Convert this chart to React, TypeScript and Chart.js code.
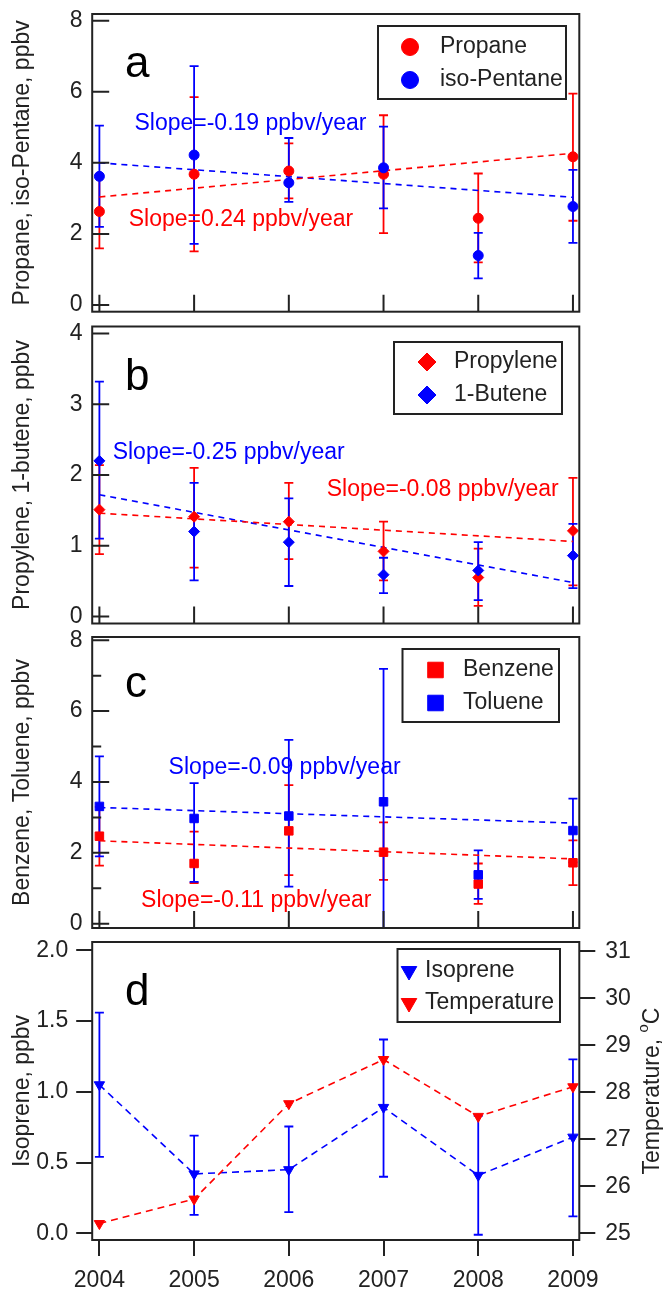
import React, { useEffect, useRef } from 'react';
import { Chart, registerables } from 'chart.js';
import { drawPoint } from 'chart.js/helpers';

Chart.register(...registerables);

const FONT = '"Liberation Sans", Arial, Helvetica, sans-serif';
const FS = 23;
const RED = '#ff0000';
const BLUE = '#0000ff';
const INK = '#222222';

// ---------- data ----------
const years = [2004, 2005, 2006, 2007, 2008, 2009];
const trendYears = [2004, 2009];

// panel a
const propane = [2.63, 3.68, 3.77, 3.68, 2.44, 4.17];
const propaneLow = [1.59, 1.51, 3.0, 2.02, 1.2, 2.37];
const propaneHigh = [3.67, 5.85, 4.55, 5.34, 3.7, 5.95];
const isoPentane = [3.62, 4.22, 3.44, 3.86, 1.39, 2.77];
const isoPentaneLow = [2.2, 1.72, 2.9, 2.72, 0.75, 1.75];
const isoPentaneHigh = [5.05, 6.72, 4.7, 5.02, 2.03, 3.8];
const propaneTrend = [3.04, 4.27];
const isoPentaneTrend = [4.0, 3.03];
const ticksA = [0, 2, 4, 6, 8];

// panel b
const propylene = [1.51, 1.41, 1.34, 0.92, 0.55, 1.21];
const propyleneLow = [0.88, 0.69, 0.81, 0.51, 0.15, 0.44];
const propyleneHigh = [2.14, 2.1, 1.89, 1.34, 0.96, 1.96];
const butene = [2.2, 1.2, 1.05, 0.59, 0.65, 0.86];
const buteneLow = [1.1, 0.51, 0.43, 0.33, 0.23, 0.4];
const buteneHigh = [3.32, 1.89, 1.67, 0.83, 1.05, 1.31];
const propyleneTrend = [1.46, 1.06];
const buteneTrend = [1.72, 0.48];
const ticksB = [0, 1, 2, 3, 4];

// panel c
const benzene = [2.47, 1.7, 2.62, 2.02, 1.12, 1.72];
const benzeneLow = [1.64, 1.15, 1.37, 1.24, 0.56, 1.09];
const benzeneHigh = [3.3, 2.6, 3.91, 2.86, 1.7, 2.35];
const toluene = [3.31, 2.97, 3.04, 3.44, 1.38, 2.63];
const tolueneLow = [1.9, 1.18, 1.05, -0.3, 0.7, 1.73];
const tolueneHigh = [4.72, 3.97, 5.19, 7.19, 2.07, 3.53];
const benzeneTrend = [2.34, 1.83];
const tolueneTrend = [3.28, 2.84];
const ticksC = [0, 2, 4, 6, 8];
const minorTicksC = [1, 3, 5, 7];

// panel d
const isoprene = [1.05, 0.42, 0.45, 0.89, 0.41, 0.68];
const isopreneLow = [0.54, 0.13, 0.15, 0.4, -0.01, 0.12];
const isopreneHigh = [1.56, 0.69, 0.755, 1.37, 0.83, 1.23];
const temperature = [25.21, 25.73, 27.76, 28.7, 27.49, 28.12];
const ticksDLeft = [0, 0.5, 1, 1.5, 2];
const ticksDRight = [25, 26, 27, 28, 29, 30, 31];

// ---------- panel configs ----------
const X_MIN = 2003.924;
const X_MAX = 2009.067;

const panels: any[] = [
  {
    top: 0, height: 320, padTop: 14, padBottom: 8.3,
    yMin: -0.19, yMax: 8.19, yTicks: ticksA, yMinor: [], yFmt: (v: number) => String(v),
    yTitle: 'Propane, iso-Pentane, ppbv',
    series: [
      { label: 'Propane', values: propane, low: propaneLow, high: propaneHigh, trend: propaneTrend, color: RED, pointStyle: 'circle', radius: 5, legendRadius: 8.5 },
      { label: 'iso-Pentane', values: isoPentane, low: isoPentaneLow, high: isoPentaneHigh, trend: isoPentaneTrend, color: BLUE, pointStyle: 'circle', radius: 5, legendRadius: 8.5 },
    ],
    legend: { left: 378, top: 26, width: 188, height: 73, rows: [47, 80], markerX: 410, textX: 440 },
    letter: { text: 'a', x: 125, y: 77 },
    slopes: [
      { text: 'Slope=-0.19 ppbv/year', color: BLUE, x: 2004.37, y: 5.09 },
      { text: 'Slope=0.24 ppbv/year', color: RED, x: 2004.31, y: 2.39 },
    ],
  },
  {
    top: 320, height: 310, padTop: 6, padBottom: 5,
    yMin: -0.1, yMax: 4.1, yTicks: ticksB, yMinor: [], yFmt: (v: number) => String(v),
    yTitle: 'Propylene, 1-butene, ppbv',
    series: [
      { label: 'Propylene', values: propylene, low: propyleneLow, high: propyleneHigh, trend: propyleneTrend, color: RED, pointStyle: 'rectRot', radius: 5.5, legendRadius: 9 },
      { label: '1-Butene', values: butene, low: buteneLow, high: buteneHigh, trend: buteneTrend, color: BLUE, pointStyle: 'rectRot', radius: 5.5, legendRadius: 9 },
    ],
    legend: { left: 394, top: 342, width: 168, height: 72, rows: [362, 395], markerX: 427, textX: 454 },
    letter: { text: 'b', x: 125, y: 390 },
    slopes: [
      { text: 'Slope=-0.25 ppbv/year', color: BLUE, x: 2004.14, y: 2.32 },
      { text: 'Slope=-0.08 ppbv/year', color: RED, x: 2006.4, y: 1.79 },
    ],
  },
  {
    top: 630, height: 305, padTop: 6.7, padBottom: 4,
    yMin: -0.12, yMax: 8.09, yTicks: ticksC, yMinor: minorTicksC, yFmt: (v: number) => String(v),
    yTitle: 'Benzene, Toluene, ppbv',
    series: [
      { label: 'Benzene', values: benzene, low: benzeneLow, high: benzeneHigh, trend: benzeneTrend, color: RED, pointStyle: 'rect', radius: 6, legendRadius: 11 },
      { label: 'Toluene', values: toluene, low: tolueneLow, high: tolueneHigh, trend: tolueneTrend, color: BLUE, pointStyle: 'rect', radius: 6, legendRadius: 11 },
    ],
    legend: { left: 402.5, top: 649, width: 156.5, height: 73, rows: [670, 703], markerX: 435.5, textX: 463 },
    letter: { text: 'c', x: 125, y: 697 },
    slopes: [
      { text: 'Slope=-0.09 ppbv/year', color: BLUE, x: 2004.73, y: 4.4 },
      { text: 'Slope=-0.11 ppbv/year', color: RED, x: 2004.44, y: 0.66 },
    ],
  },
  {
    top: 935, height: 360, padTop: 6.7, padBottom: 0, bottomAxis: true,
    yMin: -0.047, yMax: 2.059, yTicks: ticksDLeft, yMinor: [], yFmt: (v: number) => v.toFixed(1),
    yTitle: 'Isoprene, ppbv',
    y1Min: 24.86, y1Max: 31.2, y1Ticks: ticksDRight,
    series: [
      { label: 'Isoprene', values: isoprene, low: isopreneLow, high: isopreneHigh, color: BLUE, pointStyle: 'triangle', rotation: 180, radius: 6, legendRadius: 9, connect: true, yAxisID: 'y' },
      { label: 'Temperature', values: temperature, color: RED, pointStyle: 'triangle', rotation: 180, radius: 6, legendRadius: 9, connect: true, yAxisID: 'y1' },
    ],
    legend: { left: 397.5, top: 949, width: 162.5, height: 73, rows: [971, 1003], markerX: 409, textX: 425 },
    letter: { text: 'd', x: 125, y: 1005 },
    slopes: [],
    rightTitle: { text: 'Temperature, ', sup: 'o', after: 'C', x: 653 },
  },
];

// ---------- plugins ----------
const errorBarPlugin = {
  id: 'errorBars',
  beforeDatasetsDraw(chart: any, _args: any, opts: any) {
    const { ctx, chartArea: ca } = chart;
    const cfg = opts.cfg;
    if (!cfg) return;
    ctx.save();
    ctx.beginPath();
    ctx.rect(ca.left, ca.top, ca.right - ca.left, ca.bottom - ca.top);
    ctx.clip();
    const xs = chart.scales.x;
    for (const s of cfg.series) {
      if (!s.low) continue;
      const ys = chart.scales[s.yAxisID || 'y'];
      ctx.strokeStyle = s.color;
      ctx.lineWidth = 1.8;
      years.forEach((yr, i) => {
        const px = xs.getPixelForValue(yr);
        const pl = ys.getPixelForValue(s.low[i]);
        const ph = ys.getPixelForValue(s.high[i]);
        ctx.beginPath();
        ctx.moveTo(px, pl);
        ctx.lineTo(px, ph);
        ctx.moveTo(px - 4.5, pl);
        ctx.lineTo(px + 4.5, pl);
        ctx.moveTo(px - 4.5, ph);
        ctx.lineTo(px + 4.5, ph);
        ctx.stroke();
      });
    }
    ctx.restore();
  },
};

const decorPlugin = {
  id: 'decor',
  afterDraw(chart: any, _args: any, opts: any) {
    const cfg = opts.cfg;
    if (!cfg) return;
    const { ctx, chartArea: ca } = chart;
    const off = cfg.top;
    const xs = chart.scales.x;
    const ys = chart.scales.y;
    ctx.save();
    ctx.strokeStyle = INK;
    ctx.lineWidth = 2;
    if (!cfg.bottomAxis) {
      ctx.beginPath();
      for (const yr of years) {
        const px = xs.getPixelForValue(yr);
        ctx.moveTo(px, ca.bottom);
        ctx.lineTo(px, ca.bottom - 17);
      }
      for (const v of cfg.yTicks) {
        const py = ys.getPixelForValue(v);
        ctx.moveTo(ca.left, py);
        ctx.lineTo(ca.left + 17, py);
      }
      for (const v of cfg.yMinor) {
        const py = ys.getPixelForValue(v);
        ctx.moveTo(ca.left, py);
        ctx.lineTo(ca.left + 9, py);
      }
      ctx.stroke();
    }
    ctx.strokeRect(ca.left, ca.top, ca.right - ca.left, ca.bottom - ca.top);

    // panel letter
    ctx.fillStyle = '#000';
    ctx.font = `44px ${FONT}`;
    ctx.textAlign = 'left';
    ctx.textBaseline = 'alphabetic';
    ctx.fillText(cfg.letter.text, cfg.letter.x, cfg.letter.y - off);

    // slope annotations
    ctx.font = `${FS}px ${FONT}`;
    ctx.textBaseline = 'middle';
    for (const s of cfg.slopes) {
      ctx.fillStyle = s.color;
      ctx.fillText(s.text, xs.getPixelForValue(s.x), ys.getPixelForValue(s.y));
    }

    // legend
    const L = cfg.legend;
    ctx.fillStyle = '#ffffff';
    ctx.fillRect(L.left, L.top - off, L.width, L.height);
    ctx.lineWidth = 2;
    ctx.strokeStyle = INK;
    ctx.strokeRect(L.left, L.top - off, L.width, L.height);
    cfg.series.forEach((s: any, i: number) => {
      const y = L.rows[i] - off;
      ctx.fillStyle = s.color;
      ctx.strokeStyle = s.color;
      ctx.lineWidth = 1;
      drawPoint(ctx, { pointStyle: s.pointStyle, radius: s.legendRadius, rotation: s.rotation || 0, borderWidth: 1 } as any, L.markerX, y);
      ctx.fillStyle = INK;
      ctx.font = `${FS}px ${FONT}`;
      ctx.textAlign = 'left';
      ctx.textBaseline = 'middle';
      ctx.fillText(s.label, L.textX, y);
    });

    // right axis title (reads bottom to top)
    if (cfg.rightTitle) {
      const R = cfg.rightTitle;
      const cy = (ca.top + ca.bottom) / 2;
      ctx.font = `${FS}px ${FONT}`;
      const w1 = ctx.measureText(R.text).width;
      const w3 = ctx.measureText(R.after).width;
      ctx.font = `15px ${FONT}`;
      const w2 = ctx.measureText(R.sup).width;
      const total = w1 + w2 + w3;
      ctx.translate(R.x, cy);
      ctx.rotate(-Math.PI / 2);
      ctx.fillStyle = INK;
      ctx.textAlign = 'left';
      ctx.textBaseline = 'middle';
      ctx.font = `${FS}px ${FONT}`;
      ctx.fillText(R.text, -total / 2, 0);
      ctx.font = `15px ${FONT}`;
      ctx.fillText(R.sup, -total / 2 + w1, -9);
      ctx.font = `${FS}px ${FONT}`;
      ctx.fillText(R.after, -total / 2 + w1 + w2, 0);
    }
    ctx.restore();
  },
};

const noPad = (s: any) => {
  s.paddingTop = 0;
  s.paddingBottom = 0;
  s.paddingLeft = 0;
  s.paddingRight = 0;
};

// ---------- chart building ----------
function buildConfig(cfg: any) {
  const datasets: any[] = [];
  cfg.series.forEach((s: any, i: number) => {
    datasets.push({
      label: s.label,
      data: years.map((x, k) => ({ x, y: s.values[k] })),
      yAxisID: s.yAxisID || 'y',
      showLine: !!s.connect,
      borderColor: s.color,
      backgroundColor: s.color,
      borderWidth: 1.6,
      borderDash: [7, 5],
      pointStyle: s.pointStyle,
      pointRadius: s.radius,
      pointRotation: s.rotation || 0,
      pointBorderWidth: 1,
      pointBorderColor: s.color,
      pointBackgroundColor: s.color,
      order: cfg.series.length - 1 - i,
    });
    if (s.trend) {
      datasets.push({
        label: s.label + ' trend',
        data: trendYears.map((x, k) => ({ x, y: s.trend[k] })),
        yAxisID: 'y',
        showLine: true,
        borderColor: s.color,
        borderWidth: 1.6,
        borderDash: [6, 5],
        pointRadius: 0,
        order: 10 + i,
      });
    }
  });

  const tickFont = { size: FS, family: FONT };
  const scales: any = {
    x: cfg.bottomAxis
      ? {
          type: 'linear', min: X_MIN, max: X_MAX,
          afterBuildTicks: (s: any) => { s.ticks = years.map((v) => ({ value: v })); },
          ticks: { callback: (v: any) => String(v), font: tickFont, color: INK, padding: 11, maxRotation: 0, autoSkip: false },
          grid: { drawOnChartArea: false, drawTicks: true, tickLength: 16, color: INK, lineWidth: 2 },
          border: { display: false },
          afterFit: (s: any) => { s.height = 55; noPad(s); },
        }
      : { type: 'linear', min: X_MIN, max: X_MAX, display: false },
    y: {
      type: 'linear', position: 'left', min: cfg.yMin, max: cfg.yMax,
      afterBuildTicks: (s: any) => { s.ticks = cfg.yTicks.map((v: number) => ({ value: v })); },
      ticks: { callback: (v: any) => cfg.yFmt(v), font: tickFont, color: INK, padding: cfg.bottomAxis ? 8 : 9.7 },
      grid: cfg.bottomAxis
        ? { drawOnChartArea: false, drawTicks: true, tickLength: 16, color: INK, lineWidth: 2 }
        : { drawOnChartArea: false, drawTicks: false },
      border: { display: false },
      title: { display: true, text: cfg.yTitle, font: { size: FS, family: FONT }, color: INK, padding: { top: 9, bottom: 0 } },
      afterFit: (s: any) => { s.width = 92.2; noPad(s); },
    },
  };
  if (cfg.y1Ticks) {
    scales.y1 = {
      type: 'linear', position: 'right', min: cfg.y1Min, max: cfg.y1Max,
      afterBuildTicks: (s: any) => { s.ticks = cfg.y1Ticks.map((v: number) => ({ value: v })); },
      ticks: { callback: (v: any) => String(v), font: tickFont, color: INK, padding: 10 },
      grid: { drawOnChartArea: false, drawTicks: true, tickLength: 16, color: INK, lineWidth: 2 },
      border: { display: false },
      afterFit: (s: any) => { s.width = 83.7; noPad(s); },
    };
  }

  return {
    type: 'scatter',
    data: { datasets },
    options: {
      responsive: false,
      animation: false,
      events: [],
      layout: {
        padding: { left: 0, right: cfg.y1Ticks ? 0 : 83.7, top: cfg.padTop, bottom: cfg.padBottom },
      },
      scales,
      plugins: {
        legend: { display: false },
        tooltip: { enabled: false },
        errorBars: { cfg },
        decor: { cfg },
      },
    },
    plugins: [errorBarPlugin, decorPlugin],
  } as any;
}

function Panel({ cfg }: { cfg: any }) {
  const ref = useRef<HTMLCanvasElement>(null);
  useEffect(() => {
    const chart = new Chart(ref.current as HTMLCanvasElement, buildConfig(cfg));
    return () => chart.destroy();
  }, [cfg]);
  return (
    <canvas
      ref={ref}
      width={663}
      height={cfg.height}
      style={{ position: 'absolute', left: 0, top: cfg.top, width: 663, height: cfg.height }}
    />
  );
}

export default function App() {
  return (
    <div style={{ position: 'absolute', left: 0, top: 0, width: 663, height: 1295, background: '#ffffff', overflow: 'hidden' }}>
      {panels.map((p, i) => (
        <Panel key={i} cfg={p} />
      ))}
    </div>
  );
}
